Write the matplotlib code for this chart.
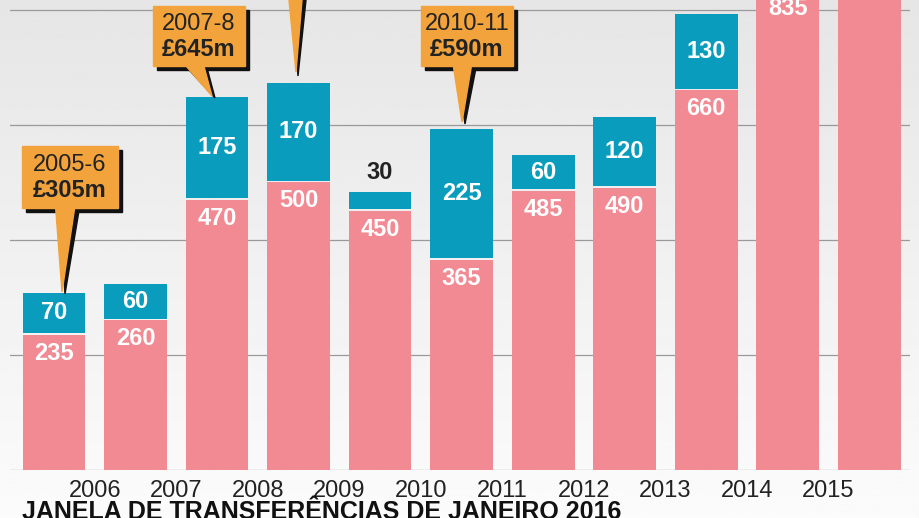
import matplotlib.pyplot as plt
import numpy as np
from matplotlib import font_manager
from matplotlib.patches import Polygon, Rectangle

YEARS = ["2006", "2007", "2008", "2009", "2010", "2011", "2012", "2013", "2014", "2015"]
SUMMER = [235, 260, 470, 500, 450, 365, 485, 490, 660, 835, 1000]
JANUARY = [70, 60, 175, 170, 30, 225, 60, 120, 130, 0, 0]
SUMMER_LABELS = ["235", "260", "470", "500", "450", "365", "485", "490", "660", "835", ""]
JAN_LABELS = ["70", "60", "175", "170", "30", "225", "60", "120", "130", "", ""]

PINK = "#f28a93"
BLUE = "#0a9cbc"
ORANGE = "#f2a33c"

names = {f.name for f in font_manager.fontManager.ttflist}
FONT = "Liberation Sans Narrow" if "Liberation Sans Narrow" in names else "Liberation Sans"
plt.rcParams["font.family"] = FONT

fig = plt.figure(figsize=(9.2, 5.18), dpi=100)
bg = fig.add_axes([0, 0, 1, 1], zorder=-5)
grad = np.linspace(0.90, 0.985, 256).reshape(-1, 1)
bg.imshow(grad, cmap="gray", vmin=0, vmax=1, aspect="auto", extent=[0, 1, 0, 1])
bg.axis("off")

# main axes: px x 10..910, y 0..470
ax = fig.add_axes([10 / 920, 48 / 518, 900 / 920, 470 / 518])
ax.set_facecolor("none")
x = np.arange(len(SUMMER))
gap = 3
ax.bar(x, SUMMER, width=0.77, color=PINK, zorder=2)
ax.bar(x, JANUARY, bottom=np.array(SUMMER) + gap, width=0.77, color=BLUE, zorder=2)
ax.set_xlim(-0.54, 10.5)
ax.set_ylim(0, 817)
for yv in [0, 200, 400, 600, 800]:
    ax.axhline(yv, color="#9a9a9a", lw=0.9, zorder=1)
for i in range(len(SUMMER)):
    if SUMMER_LABELS[i]:
        ax.text(i, SUMMER[i] - 32, SUMMER_LABELS[i], color="white", fontsize=17,
                fontweight="bold", ha="center", va="center", zorder=3)
    if JAN_LABELS[i]:
        if JANUARY[i] < 50:
            ax.text(i, SUMMER[i] + JANUARY[i] + 38, JAN_LABELS[i], color="#222222",
                    fontsize=17, fontweight="bold", ha="center", va="center", zorder=3)
        else:
            ax.text(i, SUMMER[i] + gap + JANUARY[i] / 2, JAN_LABELS[i], color="white",
                    fontsize=17, fontweight="bold", ha="center", va="center", zorder=3)
ax.set_xticks(np.arange(len(YEARS)) + 0.5)
ax.set_xticklabels(YEARS, fontsize=17, color="#222222")
ax.tick_params(axis="x", length=0, pad=7)
ax.set_yticks([])
for s in ax.spines.values():
    s.set_visible(False)

# overlay in pixel coords for callouts
ov = fig.add_axes([0, 0, 1, 1], zorder=5)
ov.set_xlim(0, 920)
ov.set_ylim(518, 0)
ov.axis("off")


def callout(x0, y0, w, h, tip, line1, line2):
    bx = [x0 + w * 0.35, x0 + w * 0.55]
    ov.add_patch(Polygon([(bx[0] + 4, y0 + h + 4), (bx[1] + 4, y0 + h + 4), (tip[0] + 3, tip[1] + 2)],
                         color="#111111"))
    ov.add_patch(Rectangle((x0 + 4, y0 + 4), w, h, color="#111111"))
    ov.add_patch(Polygon([(bx[0], y0 + h - 1), (bx[1], y0 + h - 1), tip], color=ORANGE))
    ov.add_patch(Rectangle((x0, y0), w, h, color=ORANGE))
    ov.text(x0 + w / 2, y0 + h * 0.3, line1, fontsize=17, ha="center", va="center", color="#222222")
    ov.text(x0 + w / 2, y0 + h * 0.72, line2, fontsize=17, fontweight="bold", ha="center",
            va="center", color="#222222")


callout(22, 146, 96, 62, (62, 292), "2005-6", "£305m")
callout(153, 6, 92, 60, (212, 96), "2007-8", "£645m")
callout(421, 6, 92, 60, (462, 122), "2010-11", "£590m")
ov.add_patch(Polygon([(292, 0), (306, 0), (298, 76)], color="#111111"))
ov.add_patch(Polygon([(289, 0), (302, 0), (296, 72)], color=ORANGE))

fig.text(22 / 920, 1 - 524 / 518, "JANELA DE TRANSFERÊNCIAS DE JANEIRO 2016", fontsize=18,
         fontweight="bold", color="#111111", va="bottom")

fig.savefig("out.png", dpi=100)
